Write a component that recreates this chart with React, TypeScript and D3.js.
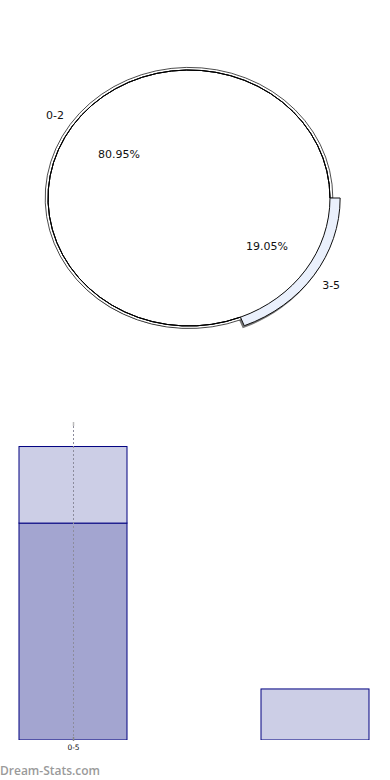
import React from "react";
import * as d3 from "d3";

// Pie: age groups and counts
const pieLabels = ["0-2", "3-5"];
const pieValues = [17, 4];

// Stacked bars
const barCategories = ["0-5", "6-10"];
const seriesKeys = ["a", "b"];
const seriesA = [17, 0];
const seriesB = [6, 4];
const xTickLabels = ["0-5"];

const W = 390;
const H = 780;

export default function App() {
  // ---- pie geometry (unit circle, stretched into an ellipse)
  const cx = 189;
  const cy = 198;
  const rx = 141;
  const ry = 128;
  const total = d3.sum(pieValues);
  const lastShare = pieValues[pieValues.length - 1] / total;
  const start = Math.PI / 2 + 2 * Math.PI * lastShare - 2 * Math.PI;
  const pie = d3
    .pie<number>()
    .sort(null)
    .startAngle(start)
    .endAngle(start + 2 * Math.PI);
  const arcs = pie(pieValues);

  const edge = d3.arc<d3.PieArcDatum<number>>().innerRadius(1).outerRadius(1);
  const rim = d3.arc<d3.PieArcDatum<number>>().innerRadius(1).outerRadius(1.02);
  const band = d3.arc<d3.PieArcDatum<number>>().innerRadius(1).outerRadius(1.072);

  const pt = (angle: number, r: number) => [
    cx + Math.sin(angle) * r * rx,
    cy - Math.cos(angle) * r * ry,
  ];
  const unit = `translate(${cx},${cy}) scale(${rx},${ry})`;
  const valueRadius = [0.6, 0.67];
  const nameRadius = [1.15, 1.22];

  // ---- bar geometry
  const plotLeft = 18;
  const plotRight = 370;
  const plotTop = 421;
  const plotBottom = 740;
  const x = d3.scalePoint<string>().domain(barCategories).range([73, 315]);
  const barWidth = 108;
  const y = d3.scaleLinear().domain([0, 25]).range([plotBottom, plotTop]);
  const table = barCategories.map((c, i) => ({ cat: c, a: seriesA[i], b: seriesB[i] }));
  const stacked = d3.stack<any>().keys(seriesKeys)(table);
  const fills: Record<string, string> = { a: "#a3a5d0", b: "#cccee6" };

  const fmt = (v: number) => ((v / total) * 100).toFixed(2) + "%";

  return (
    <svg
      width={W}
      height={H}
      style={{ position: "absolute", left: 0, top: 0 }}
      fontFamily="DejaVu Sans, sans-serif"
    >
      <defs>
        <filter id="soft" x="-10%" y="-10%" width="120%" height="120%">
          <feGaussianBlur stdDeviation="0.6" />
        </filter>
        <clipPath id="plotClip">
          <rect x={plotLeft} y={plotTop - 5} width={plotRight - plotLeft} height={plotBottom - plotTop + 5} />
        </clipPath>
      </defs>
      <rect width={W} height={H} fill="#fff" />

      {/* drop shadows */}
      <g filter="url(#soft)">
        <g transform={`translate(-1.5,2.5)`}>
          <ellipse cx={cx} cy={cy} rx={rx} ry={ry} fill="#777" />
          <path transform={unit} d={band(arcs[1]) || ""} fill="#777" />
        </g>
      </g>

      {/* pie body, white */}
      <ellipse cx={cx} cy={cy} rx={rx} ry={ry} fill="#fff" />

      {/* main slice: thin rim and outer edge */}
      <g transform={unit}>
        <path d={rim(arcs[0]) || ""} fill="#fff" stroke="#000" strokeWidth={0.7} vectorEffect="non-scaling-stroke" />
        <path d={edge(arcs[0]) || ""} fill="none" stroke="#000" strokeWidth={1} vectorEffect="non-scaling-stroke" />
      </g>

      {/* pulled-out band slice */}
      <g transform={unit}>
        <path d={band(arcs[1]) || ""} fill="#eaf0fc" stroke="#111" strokeWidth={1} vectorEffect="non-scaling-stroke" />
      </g>

      {/* pie labels */}
      {arcs.map((a, i) => {
        const mid = (a.startAngle + a.endAngle) / 2;
        const [px, py] = pt(mid, valueRadius[i]);
        const [lx, ly] = pt(mid, nameRadius[i]);
        return (
          <g key={pieLabels[i]} fontSize={11} fill="#111">
            <text x={px} y={py} textAnchor="middle" dominantBaseline="central">
              {fmt(a.value)}
            </text>
            <text x={lx} y={ly} textAnchor="middle" dominantBaseline="central">
              {pieLabels[i]}
            </text>
          </g>
        );
      })}

      {/* stacked bars */}
      <g clipPath="url(#plotClip)">
        {stacked.map((s) =>
          s.map((d, i) => {
            const h = y(d[0]) - y(d[1]);
            if (h <= 0) return null;
            const cxBar = x(barCategories[i]) as number;
            return (
              <rect
                key={s.key + i}
                x={cxBar - barWidth / 2}
                y={y(d[1])}
                width={barWidth}
                height={h}
                fill={fills[s.key]}
                stroke="#000080"
                strokeWidth={1}
              />
            );
          })
        )}
      </g>

      {/* category gridline and tick */}
      {xTickLabels.map((t) => {
        const tx = (x(t) as number) + 0.5;
        return (
          <g key={t}>
            <line x1={tx} x2={tx} y1={plotTop + 1} y2={plotBottom} stroke="#8c8c9c" strokeDasharray="2,2" strokeWidth={1} />
            <line x1={tx} x2={tx} y1={plotTop + 1} y2={plotTop + 5} stroke="#bbb" strokeWidth={1.5} />
            <line x1={tx} x2={tx} y1={plotBottom - 3} y2={plotBottom + 1} stroke="#888" strokeWidth={1.5} />
            <text x={tx} y={plotBottom + 10} textAnchor="middle" fontSize={7.5} fill="#111">
              {t}
            </text>
          </g>
        );
      })}

      <text x={0} y={775} fontSize={12} fontWeight={600} fill="#9a9a9a" fontFamily="Open Sans, sans-serif">
        Dream-Stats.com
      </text>
    </svg>
  );
}
